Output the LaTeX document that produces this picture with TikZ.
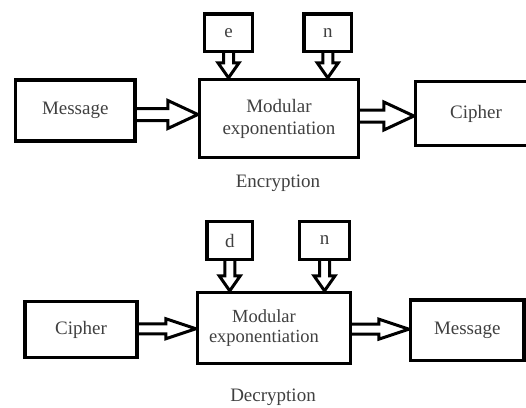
\documentclass[tikz,border=0pt]{standalone}
\usepackage{fontspec}
\setmainfont{Liberation Serif}
\usetikzlibrary{calc,backgrounds}
\tikzset{
  box/.style={draw=black, line width=3.3pt, fill=white, inner sep=0pt, align=center,
    font=\fontsize{19}{22}\selectfont, text=black!75},
  fat/.style={draw=black, line width=3pt, fill=white, line join=miter},
  lbl/.style={inner sep=0pt, font=\fontsize{19}{22}\selectfont, text=black!75}
}
% horizontal hollow arrow: from #1.east to #2.west; #3 shaft half, #4 head half, #5 head length
\newcommand{\harrow}[5]{%
  \coordinate (hm) at ($(#1.east)!0.5!(#2.west)$);
  \coordinate (hs) at (#1.east|-hm);
  \coordinate (ht) at (#2.west|-hm);
  \draw[fat] ($(hs)+(0,#3)$) -- ($(ht)+(-#5,#3)$) -- ($(ht)+(-#5,#4)$) -- (ht)
    -- ($(ht)+(-#5,-#4)$) -- ($(ht)+(-#5,-#3)$) -- ($(hs)+(0,-#3)$);}
% vertical hollow arrow: from #1.south down to #2.north
\newcommand{\varrow}[5]{%
  \coordinate (vs) at (#1.south);
  \coordinate (vt) at (#1.south|-#2.north);
  \draw[fat] ($(vs)+(#3,0)$) -- ($(vt)+(#3,-#5)$) -- ($(vt)+(#4,-#5)$) -- (vt)
    -- ($(vt)+(-#4,-#5)$) -- ($(vt)+(-#3,-#5)$) -- ($(vs)+(-#3,0)$);}
\begin{document}
\begin{tikzpicture}[x=1pt,y=-1pt]
\useasboundingbox (0,0) rectangle (526,407);
\clip (0,0) rectangle (526,407);
% ---- Encryption ----
\node[box, minimum width=48pt, minimum height=37.5pt] (e) at (228.5,32.75) {e};
\node[box, minimum width=47.5pt, minimum height=37.5pt] (n1) at (327.75,32.75) {n};
\node[box, minimum width=119.5pt, minimum height=61pt] (msg1) at (75.25,110.5) {Message};
\node[box, minimum width=159pt, minimum height=78pt] (mod1) at (279,118.5) {Modular\\exponentiation};
\node[box, minimum width=121pt, minimum height=64pt] (ciph1) at (476,113.5) {Cipher};
\node[lbl] (enc) at (278,183) {Encryption};
% ---- Decryption ----
\node[box, minimum width=45.5pt, minimum height=38pt] (d) at (229.75,240.5) {d};
\node[box, minimum width=50pt, minimum height=38pt] (n2) at (324.5,240.5) {n};
\node[box, minimum width=112pt, minimum height=56pt] (ciph2) at (81,329.5) {Cipher};
\node[box, minimum width=153pt, minimum height=71pt, font=\fontsize{18.5}{20.5}\selectfont] (mod2) at (274,328)
  {Modular\hspace*{20pt}\\exponentiation\hspace*{20pt}};
\node[box, minimum width=113.5pt, minimum height=60.5pt] (msg2) at (467.25,330.25) {Message};
\node[lbl] (dec) at (273,397) {Decryption};
% ---- arrows (behind the boxes) ----
\begin{pgfonlayer}{background}
\harrow{msg1}{mod1}{6}{14}{30}
\harrow{mod1}{ciph1}{6}{14}{30}
\varrow{e}{mod1}{5}{10.5}{15}
\varrow{n1}{mod1}{5}{10.5}{15}
\harrow{ciph2}{mod2}{5}{10}{30}
\harrow{mod2}{msg2}{5}{10}{30}
\varrow{d}{mod2}{5}{10.5}{15}
\varrow{n2}{mod2}{5}{10.5}{15}
\end{pgfonlayer}
\end{tikzpicture}
\end{document}
